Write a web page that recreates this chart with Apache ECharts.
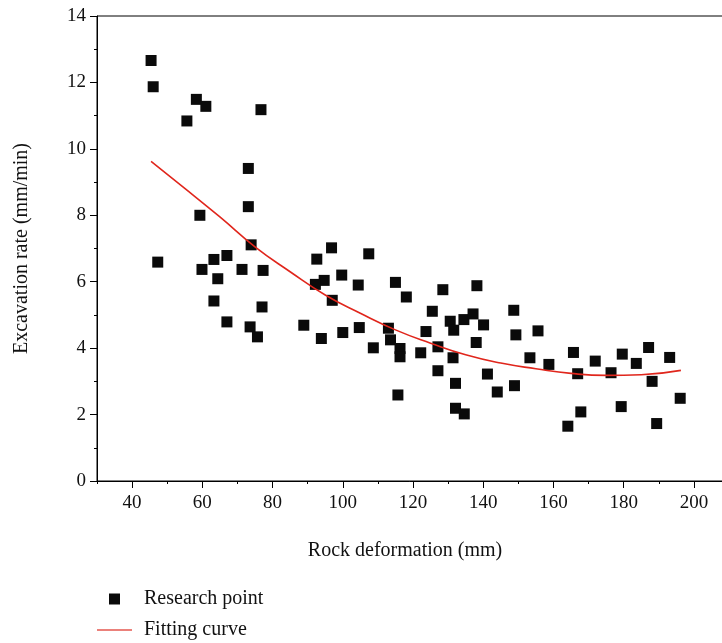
<!DOCTYPE html>
<html>
<head>
<meta charset="utf-8">
<script src="https://cdn.jsdelivr.net/npm/echarts@6/dist/echarts.min.js"></script>
<style>
  html, body { margin: 0; padding: 0; background: #fff; }
  #chart { width: 722px; height: 643px; }
</style>
</head>
<body>
<div id="chart"></div>
<script>
// research points (rock deformation mm, excavation rate mm/min)
var pointX = [45.4, 46.0, 58.3, 61.0, 55.6, 76.7, 73.1, 73.1, 59.3, 73.9,
  47.3, 63.3, 67.0, 59.9, 71.3, 77.3, 64.4, 63.3, 77.0, 67.0, 73.6, 75.7, 88.9,
  96.8, 92.6, 107.4, 94.7, 92.2, 99.7, 104.4, 115.0, 118.1, 97.0, 128.5, 138.2,
  125.5, 130.6, 134.5, 137.1, 140.1, 131.6, 123.7, 93.9, 100.0, 104.7, 113.0,
  113.6, 116.3, 116.3, 108.7, 122.2, 127.1, 131.4, 138.0, 127.1, 132.1, 141.2,
  144.0, 115.7, 132.1, 134.6,
  148.7, 149.3, 155.6, 153.3, 158.7, 148.9, 165.7, 166.9, 171.9, 176.4, 179.6,
  183.6, 187.1, 193.1, 188.1, 196.1, 167.8, 164.1, 179.3, 189.4];
var pointY = [12.66, 11.87, 11.49, 11.28, 10.84, 11.18, 9.41, 8.26, 8.0, 7.11,
  6.59, 6.67, 6.79, 6.37, 6.37, 6.34, 6.09, 5.42, 5.24, 4.79, 4.64, 4.34, 4.69,
  7.02, 6.68, 6.84, 6.04, 5.92, 6.20, 5.90, 5.98, 5.54, 5.44, 5.76, 5.88,
  5.11, 4.81, 4.86, 5.03, 4.70, 4.54, 4.50, 4.29, 4.47, 4.62, 4.60,
  4.25, 3.99, 3.74, 4.01, 3.86, 4.04, 3.71, 4.17, 3.32, 2.94, 3.22,
  2.68, 2.59, 2.19, 2.02,
  5.14, 4.40, 4.52, 3.71, 3.51, 2.87, 3.87, 3.23, 3.61, 3.26, 3.82,
  3.54, 4.02, 3.72, 3.00, 2.49, 2.08, 1.65, 2.24, 1.73];

// fitting curve
var curveX = [45.4, 55, 65, 75, 85, 95, 105, 115, 125, 135, 145, 155, 165, 175, 185, 196.3];
var curveY = [9.62, 8.81, 7.95, 7.05, 6.30, 5.60, 5.05, 4.55, 4.15, 3.80, 3.55, 3.38, 3.24, 3.18, 3.20, 3.33];

// axis ticks
var xLabelTicks = [40, 60, 80, 100, 120, 140, 160, 180, 200];
var xMinorTicks = [30, 50, 70, 90, 110, 130, 150, 170, 190, 210];

var font = 'Liberation Serif';
var ink = '#111';
var red = '#e0261c';

var scatterData = pointX.map(function (x, i) { return [x, pointY[i]]; });
var curveData = curveX.map(function (x, i) { return [x, curveY[i]]; });

var myChart = echarts.init(document.getElementById('chart'));
var option = {
  backgroundColor: '#fff',
  animation: false,
  // plot runs past the right edge of the picture (x max 210 is cut off)
  grid: {
    left: 97, top: 16, width: 632, bottom: 162,
    outerBoundsMode: 'none',
    show: true, borderColor: '#000', borderWidth: 1
  },
  legend: [
    {
      orient: 'vertical', left: 104, top: 584,
      itemWidth: 11, itemHeight: 11,
      data: [{ name: 'Research point', icon: 'rect' }],
      textStyle: { fontFamily: font, fontSize: 20, color: ink, padding: [0, 0, 0, 19] }
    },
    {
      orient: 'vertical', left: 92, top: 615,
      itemWidth: 35, itemHeight: 1.5,
      data: [{ name: 'Fitting curve', icon: 'rect' }],
      itemStyle: { color: '#e4574f' },
      textStyle: { fontFamily: font, fontSize: 20, color: ink, padding: [0, 0, 0, 7] }
    }
  ],
  xAxis: [
    {
      type: 'value', min: 30, max: 210,
      name: 'Rock deformation (mm)', nameLocation: 'middle', nameGap: 60,
      nameTextStyle: { fontFamily: font, fontSize: 20, color: ink, padding: [0, 16, 0, 0] },
      axisLine: { lineStyle: { color: '#000', width: 1 } },
      axisTick: { customValues: xLabelTicks, length: 7, lineStyle: { color: '#000' } },
      axisLabel: { customValues: xLabelTicks, margin: 13, fontFamily: font, fontSize: 19, color: ink },
      splitLine: { show: false }
    },
    {
      type: 'value', min: 30, max: 210, position: 'bottom',
      axisLine: { show: false },
      axisTick: { customValues: xMinorTicks, length: 3, lineStyle: { color: '#000' } },
      axisLabel: { show: false },
      splitLine: { show: false }
    }
  ],
  yAxis: {
    type: 'value', min: 0, max: 14, interval: 2,
    name: 'Excavation rate (mm/min)', nameLocation: 'middle', nameGap: 65,
    nameTextStyle: { fontFamily: font, fontSize: 20, color: ink },
    axisLine: { show: true, lineStyle: { color: '#000', width: 1 } },
    axisTick: { show: true, length: 7, lineStyle: { color: '#000' } },
    minorTick: { show: true, splitNumber: 2, length: 3, lineStyle: { color: '#000' } },
    axisLabel: { margin: 11, fontFamily: font, fontSize: 19, color: ink },
    splitLine: { show: false }
  },
  series: [
    {
      name: 'Research point', type: 'scatter',
      symbol: 'rect', symbolSize: 11,
      itemStyle: { color: '#0a0a0a', opacity: 1 },
      data: scatterData
    },
    {
      name: 'Fitting curve', type: 'line',
      smooth: true, symbol: 'none',
      lineStyle: { color: red, width: 1.6 },
      itemStyle: { color: red },
      data: curveData
    }
  ]
};
myChart.setOption(option);
</script>
</body>
</html>
